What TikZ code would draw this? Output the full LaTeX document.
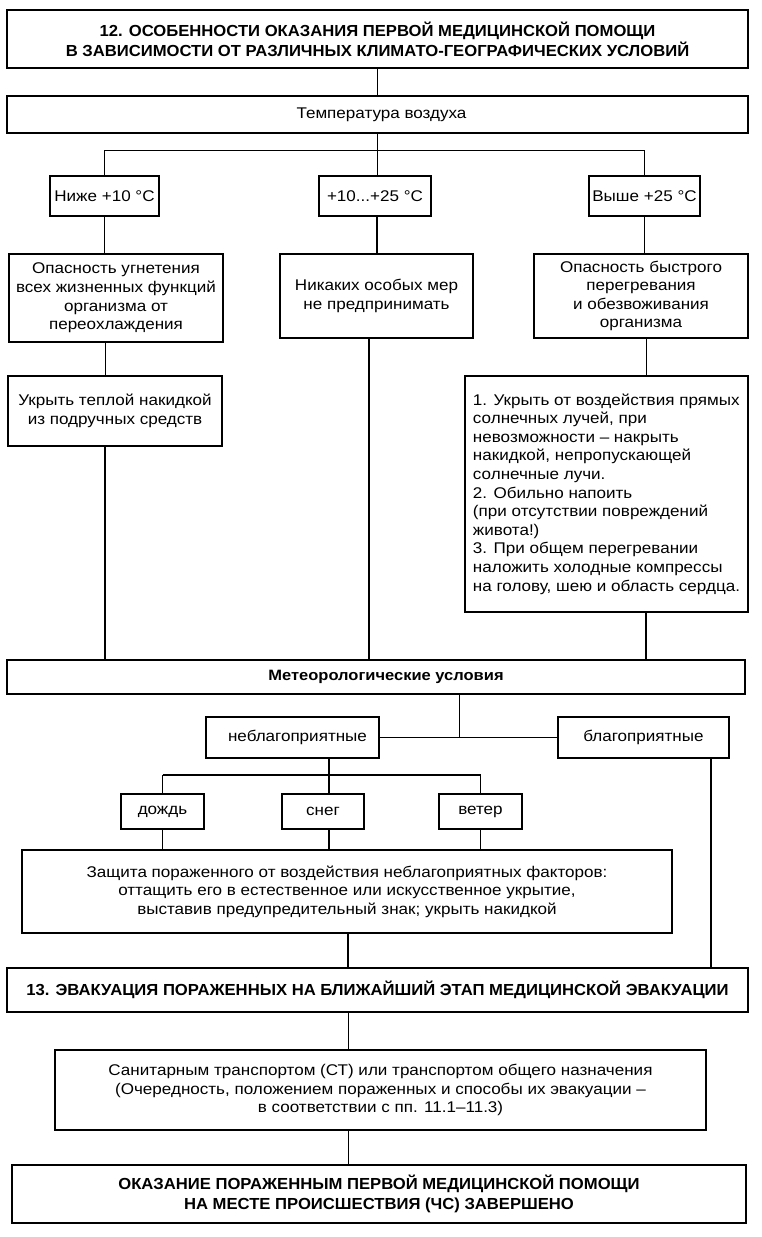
\documentclass[tikz,border=0pt]{standalone}
\usepackage{fontspec}
\setmainfont{Liberation Sans}[FakeStretch=1.1]
\newfontfamily\hdfont[FakeStretch=1.04]{Liberation Sans}
\newfontfamily\mtfont[FakeStretch=1.1]{Liberation Sans}
\usetikzlibrary{shadows}
\tikzset{
  bx/.style={draw, line width=1.1pt, fill=white, inner sep=2pt, outer sep=0pt, align=center,
    copy shadow={shadow xshift=0.9pt, shadow yshift=-0.9pt},
    font=\fontsize{15.5}{18.6}\selectfont},
  hd/.style={font=\hdfont\bfseries\fontsize{16}{20}\selectfont},
  thin/.style={line width=0.9pt},
  thick/.style={line width=1.7pt},
}
\newcommand\bx[7][]{\node[bx,#1, minimum width={(#5-#3)*1pt}, minimum height={(#6-#4)*1pt}] (#2) at ({(#3+#5)/2},{(#4+#6)/2}) {#7};}
\begin{document}
\begin{tikzpicture}[x=1pt,y=-1pt]
\useasboundingbox[fill=white] (0,0) rectangle (762,1237);
% boxes
\bx[hd]{title}{7}{10}{748}{68}{12. ОСОБЕННОСТИ ОКАЗАНИЯ ПЕРВОЙ МЕДИЦИНСКОЙ ПОМОЩИ\\В ЗАВИСИМОСТИ ОТ РАЗЛИЧНЫХ КЛИМАТО-ГЕОГРАФИЧЕСКИХ УСЛОВИЙ}
\bx{temp}{7}{96}{748}{133}{\hspace*{8pt}Температура воздуха}
\bx{ta}{50}{176}{159}{216}{Ниже +10 °С}
\bx{tb}{319}{176}{431}{216}{+10...+25 °С}
\bx{tc}{589}{176}{700}{216}{Выше +25 °С}
\bx{ra}{9}{254}{223}{342}{Опасность угнетения\\всех жизненных функций\\организма от\\переохлаждения}
\bx{rb}{280}{254}{473}{338}{Никаких особых мер\\не предпринимать}
\bx{rc}{534}{254}{748}{338}{Опасность быстрого\\перегревания\\и обезвоживания\\организма}
\bx{sa}{8}{376}{222}{446}{Укрыть теплой накидкой\\из подручных средств}
\bx[align=left]{sc}{465}{376}{748}{612}{1. Укрыть от воздействия прямых\\солнечных лучей, при\\невозможности – накрыть\\накидкой, непропускающей\\солнечные лучи.\\2. Обильно напоить\\(при отсутствии повреждений\\живота!)\\3. При общем перегревании\\наложить холодные компрессы\\на голову, шею и область сердца.}
\bx[font=\mtfont\bfseries\fontsize{15}{18}\selectfont]{meteo}{7}{660}{745}{694}{\hspace*{20pt}Метеорологические условия}
\bx{neb}{206}{717}{379}{758}{\hspace*{10pt}неблагоприятные}
\bx{blag}{558}{717}{729}{758}{благоприятные}
\bx[text height=1.55ex, text depth=0.25ex]{rain}{121}{794}{204}{829}{дождь}
\bx{snow}{282}{794}{364}{829}{снег}
\bx{wind}{439}{794}{522}{829}{ветер}
\bx{prot}{22}{850}{672}{933}{Защита пораженного от воздействия неблагоприятных факторов:\\оттащить его в естественное или искусственное укрытие,\\выставив предупредительный знак; укрыть накидкой}
\bx[hd]{evac}{7}{968}{748}{1012}{13. ЭВАКУАЦИЯ ПОРАЖЕННЫХ НА БЛИЖАЙШИЙ ЭТАП МЕДИЦИНСКОЙ ЭВАКУАЦИИ}
\bx{trans}{55}{1050}{706}{1130}{Санитарным транспортом (СТ) или транспортом общего назначения\\(Очередность, положением пораженных и способы их эвакуации –\\в соответствии с пп. 11.1–11.3)}
\bx[hd]{fin}{12}{1165}{746}{1223}{ОКАЗАНИЕ ПОРАЖЕННЫМ ПЕРВОЙ МЕДИЦИНСКОЙ ПОМОЩИ\\НА МЕСТЕ ПРОИСШЕСТВИЯ (ЧС) ЗАВЕРШЕНО}
% column coordinates
\coordinate (cl) at (105,0);
\coordinate (cm) at (369,0);
\coordinate (cr) at (646,0);
\coordinate (mj) at (459,738);
\coordinate (nj) at (329,775);
\coordinate (cb) at (711,0);
\coordinate (ce) at (348,0);
\coordinate (tj) at (377,150);
% connectors
\draw[thin] (title.south) -- (temp.north);
\draw[thin] (temp.south) -- (tb.north -| temp.south);
\draw[thin] (ta.north) -- (ta.north |- tj) -- (tc.north |- tj) -- (tc.north);
\draw[thick] (ta.south) -- (ta.south |- ra.north);
\draw[thick] (tb.south -| tj) -- (rb.north -| tj);
\draw[thick] (tc.south) -- (tc.south |- rc.north);
\draw[thin] (ra.south -| cl) -- (sa.north -| cl);
\draw[thick] (sa.south -| cl) -- (meteo.north -| cl);
\draw[thick] (rb.south -| cm) -- (meteo.north -| cm);
\draw[thin] (rc.south -| cr) -- (sc.north -| cr);
\draw[thick] (sc.south -| cr) -- (meteo.north -| cr);
\draw[thin] (meteo.south -| mj) -- (mj);
\draw[thick] (neb.east) -- (blag.west);
\draw[thick] (neb.south -| nj) -- (snow.north -| nj);
\draw[thin] (rain.north) -- (rain.north |- nj);
\draw[thick] (rain.north |- nj) -- (wind.north |- nj);
\draw[thin] (wind.north |- nj) -- (wind.north);
\draw[thick] (rain.south) -- (rain.south |- prot.north);
\draw[thick] (snow.south -| nj) -- (prot.north -| nj);
\draw[thick] (wind.south) -- (wind.south |- prot.north);
\draw[thick] (prot.south -| ce) -- (evac.north -| ce);
\draw[thick] (blag.south -| cb) -- (evac.north -| cb);
\draw[thin] (evac.south -| ce) -- (trans.north -| ce);
\draw[thin] (trans.south -| ce) -- (fin.north -| ce);
\end{tikzpicture}
\end{document}
